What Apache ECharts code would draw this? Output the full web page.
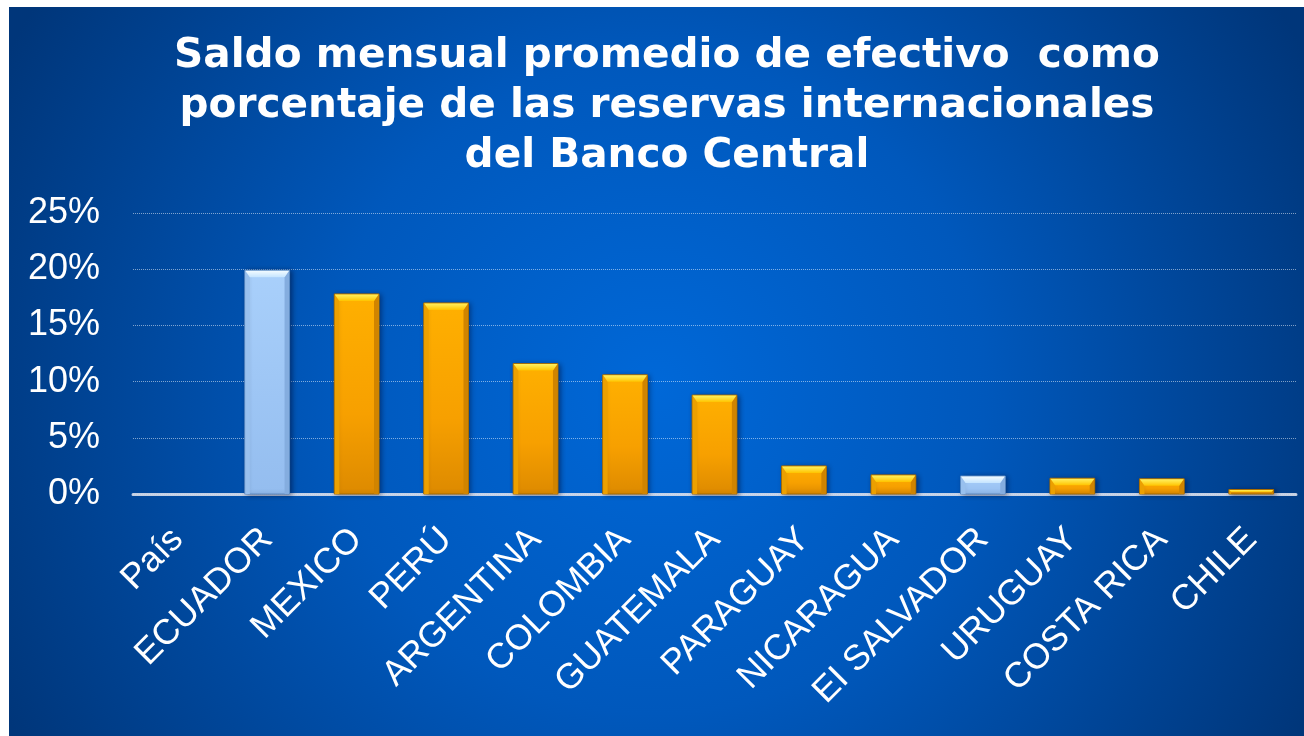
<!DOCTYPE html>
<html>
<head>
<meta charset="utf-8">
<script src="https://cdn.jsdelivr.net/npm/echarts@6/dist/echarts.min.js"></script>
<style>
  html, body { margin: 0; padding: 0; background: #ffffff; width: 1304px; height: 736px; overflow: hidden; }
  #chart { position: absolute; left: 9px; top: 7px; width: 1295px; height: 729px; }
</style>
</head>
<body>
<div id="chart"></div>
<script>
// ---- data ----
const categorias = ['País', 'ECUADOR', 'MEXICO', 'PERÚ', 'ARGENTINA', 'COLOMBIA', 'GUATEMALA',
                    'PARAGUAY', 'NICARAGUA', 'EI SALVADOR', 'URUGUAY', 'COSTA RICA', 'CHILE'];
const saldoPct = [null, 19.9, 17.8, 17.0, 11.6, 10.6, 8.8, 2.5, 1.7, 1.6, 1.4, 1.35, 0.4];
const dolarizados = ['ECUADOR', 'EI SALVADOR'];
const yTicks = [0, 5, 10, 15, 20, 25];
const titulo = 'Saldo mensual promedio de efectivo  como\nporcentaje de las reservas internacionales\ndel Banco Central';

const chart = echarts.init(document.getElementById('chart'));

const seriesData = [];
categorias.forEach((c, i) => { if (saldoPct[i] !== null) seriesData.push([i, saldoPct[i]]); });

function renderBar(params, api) {
  const idx = api.value(0);
  const v = api.value(1);
  const pTop = api.coord([idx, v]);
  const pBase = api.coord([idx, 0]);
  const w = api.size([1, 0])[0] * 0.5;
  const L = pTop[0] - w / 2, R = pTop[0] + w / 2, T = pTop[1], B = pBase[1];
  const h = B - T;
  const by = Math.min(7, h * 0.55);
  const bx = Math.min(5, h * 0.45);
  const blue = dolarizados.indexOf(categorias[idx]) >= 0;
  const LG = echarts.graphic.LinearGradient;
  const front = blue
    ? new LG(0, 0, 0, 1, [{ offset: 0, color: '#a9d0fb' }, { offset: 1, color: '#94bdef' }])
    : new LG(0, 0, 0, 1, [{ offset: 0, color: '#ffb000' }, { offset: 0.6, color: '#f7a000' }, { offset: 1, color: '#dd8a00' }]);
  const topF = blue
    ? new LG(0, 0, 0, 1, [{ offset: 0, color: '#f2fbff' }, { offset: 1, color: '#c4e4ff' }])
    : new LG(0, 0, 0, 1, [{ offset: 0, color: '#fff060' }, { offset: 1, color: '#ffc400' }]);
  const sideL = blue ? '#98c0ee' : '#eca000';
  const sideR = blue ? '#84addf' : '#d08400';
  const edge = blue ? '#5f8dc4' : '#a86c00';
  return {
    type: 'group',
    children: [
      { type: 'rect', shape: { x: L, y: T, width: w, height: h },
        style: { fill: front, stroke: edge, lineWidth: 1, shadowBlur: 5, shadowColor: 'rgba(0,0,30,0.45)', shadowOffsetX: 2, shadowOffsetY: 1 } },
      { type: 'polygon', shape: { points: [[L + 0.5, T + 0.5], [L + bx, T + by], [L + bx, B], [L + 0.5, B]] }, style: { fill: sideL } },
      { type: 'polygon', shape: { points: [[R - 0.5, T + 0.5], [R - bx, T + by], [R - bx, B], [R - 0.5, B]] }, style: { fill: sideR } },
      { type: 'polygon', shape: { points: [[L + 0.5, T + 0.5], [R - 0.5, T + 0.5], [R - bx, T + by], [L + bx, T + by]] }, style: { fill: topF } }
    ]
  };
}

const option = {
  backgroundColor: {
    type: 'radial', x: 0.5, y: 0.52, r: 1.0,
    colorStops: [
      { offset: 0, color: '#0068d8' },
      { offset: 0.45, color: '#0058bc' },
      { offset: 1, color: '#00367a' }
    ]
  },
  title: {
    text: titulo,
    left: 653,
    top: 19,
    textAlign: 'center',
    textStyle: {
      color: '#ffffff',
      fontFamily: 'DejaVu Sans',
      fontWeight: 'bold',
      fontSize: 40.6,
      lineHeight: 50
    }
  },
  grid: { left: 124, right: 8, top: 206, bottom: 242 },
  xAxis: {
    type: 'category',
    data: categorias,
    axisTick: { show: false },
    axisLine: { show: true, lineStyle: { color: 'rgba(215,222,235,0.9)', width: 3, type: [3, 1] } },
    axisLabel: {
      interval: 0,
      rotate: 45,
      margin: 40,
      color: '#ffffff',
      fontFamily: 'Liberation Sans, Arial, sans-serif',
      fontSize: 35.5
    }
  },
  yAxis: {
    type: 'value',
    min: yTicks[0],
    max: yTicks[yTicks.length - 1],
    interval: yTicks[1] - yTicks[0],
    axisLine: { show: false },
    axisTick: { show: false },
    splitLine: { lineStyle: { color: 'rgba(255,255,255,0.5)', width: 1, type: 'dotted' } },
    axisLabel: {
      formatter: '{value}%',
      margin: 33,
      color: '#ffffff',
      fontFamily: 'Liberation Sans, Arial, sans-serif',
      fontSize: 36
    }
  },
  series: [{
    type: 'custom',
    renderItem: renderBar,
    data: seriesData,
    encode: { x: 0, y: 1 },
    z: 1
  }]
};
chart.setOption(option);
</script>
</body>
</html>
